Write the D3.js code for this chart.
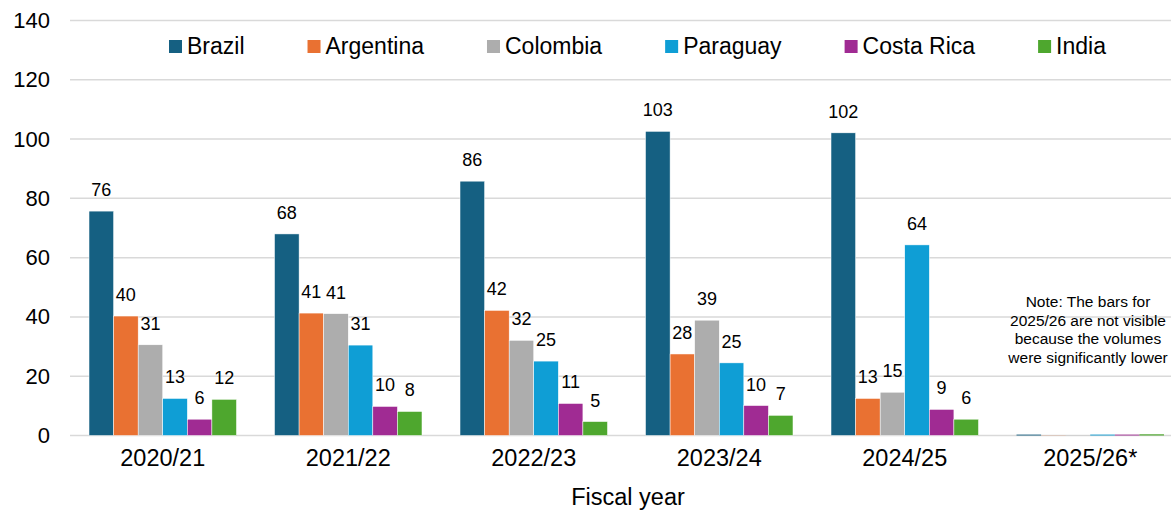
<!DOCTYPE html>
<html>
<head>
<meta charset="utf-8">
<script src="https://cdn.jsdelivr.net/npm/d3@7"></script>
<style>
  html, body { margin: 0; padding: 0; background: #fff; }
  svg { display: block; font-family: "Liberation Sans", Arial, sans-serif; }
</style>
</head>
<body>
<div id="chart"></div>
<script>
// data
const years = ["2020/21", "2021/22", "2022/23", "2023/24", "2024/25", "2025/26*"];
const countries = ["Brazil", "Argentina", "Colombia", "Paraguay", "Costa Rica", "India"];
const brazil    = [75.7, 68.0, 85.8, 102.6, 102.1, 0.3];
const argentina = [40.3, 41.3, 42.2, 27.5, 12.5, 0.05];
const colombia  = [30.6, 41.1, 32.1, 38.9, 14.6, 0.05];
const paraguay  = [12.5, 30.5, 25.1, 24.5, 64.3, 0.3];
const costaRica = [5.5, 9.8, 10.8, 10.1, 8.8, 0.3];
const india     = [12.2, 8.1, 4.7, 6.8, 5.5, 0.4];
const yTicks = [0, 20, 40, 60, 80, 100, 120, 140];
const colors = ["#156082", "#E97132", "#ADADAD", "#0F9ED5", "#A02B93", "#4EA72E"];
const noteLines = ["Note: The bars for", "2025/26 are not visible", "because the volumes", "were significantly lower"];

const seriesValues = [brazil, argentina, colombia, paraguay, costaRica, india];

const W = 1171, H = 510;
const svg = d3.select("#chart").append("svg")
    .attr("width", W).attr("height", H);

// scales
const x0 = d3.scaleBand().domain(years).range([70, 1183])
    .paddingInner(0.205).paddingOuter(0.1025);
const x1 = d3.scaleBand().domain(countries).range([0, x0.bandwidth()]);
const y = d3.scaleLinear().domain([0, 140]).range([435.5, 20.5]);
const color = d3.scaleOrdinal().domain(countries).range(colors);

// grid
svg.append("g").selectAll("line")
    .data(yTicks)
    .join("line")
    .attr("x1", 70).attr("x2", W)
    .attr("y1", d => y(d)).attr("y2", d => y(d))
    .attr("stroke", "#d9d9d9").attr("stroke-width", 1.5);

// y axis labels
const yAxis = svg.append("g").attr("transform", "translate(60,0)")
    .call(d3.axisLeft(y).tickValues(yTicks).tickSize(0).tickPadding(10));
yAxis.select(".domain").remove();
yAxis.selectAll("text").attr("font-size", "22px").attr("fill", "#000")
    .attr("font-family", "Liberation Sans, Arial, sans-serif");

// bars
const rows = [];
years.forEach((yr, i) => {
    countries.forEach((c, j) => rows.push({ year: yr, country: c, value: seriesValues[j][i] }));
});

svg.append("g").selectAll("rect")
    .data(rows)
    .join("rect")
    .attr("x", d => x0(d.year) + x1(d.country))
    .attr("y", d => y(d.value))
    .attr("width", x1.bandwidth())
    .attr("height", d => y(0) - y(d.value))
    .attr("fill", d => color(d.country))
    .attr("stroke", d => d.value > 1 ? "#fff" : "none")
    .attr("stroke-width", 0.5);

// labels
svg.append("g").selectAll("text")
    .data(rows.filter(d => d.value >= 1))
    .join("text")
    .attr("x", d => x0(d.year) + x1(d.country) + x1.bandwidth() / 2)
    .attr("y", d => y(d.value) - 15)
    .attr("text-anchor", "middle")
    .attr("font-size", "18px")
    .attr("fill", "#000")
    .text(d => Math.round(d.value));

// x axis
const xAxis = svg.append("g").attr("transform", `translate(0,${y(0)})`)
    .call(d3.axisBottom(x0).tickSize(0).tickPadding(14));
xAxis.select(".domain").remove();
xAxis.selectAll("text").attr("font-size", "23.5px").attr("fill", "#000")
    .attr("font-family", "Liberation Sans, Arial, sans-serif");

svg.append("text")
    .attr("x", 628).attr("y", 505)
    .attr("text-anchor", "middle")
    .attr("font-size", "23.5px")
    .text("Fiscal year");

// legend
const legend = svg.append("g");
let lx = 169;
countries.forEach((c, i) => {
    const g = legend.append("g").attr("transform", `translate(${lx},40)`);
    g.append("rect").attr("width", 13).attr("height", 13).attr("fill", colors[i]);
    const t = g.append("text").attr("x", 18).attr("y", 13.5).attr("font-size", "23px").text(c);
    lx += 18 + t.node().getComputedTextLength() + 63;
});

// note (kept just inside the right edge)
svg.append("text")
    .attr("x", 1088).attr("y", 307)
    .attr("text-anchor", "middle")
    .attr("font-size", "15.5px")
    .selectAll("tspan")
    .data(noteLines)
    .join("tspan")
    .attr("x", 1088)
    .attr("dy", (d, i) => i === 0 ? 0 : 18.5)
    .text(d => d);
</script>
</body>
</html>
